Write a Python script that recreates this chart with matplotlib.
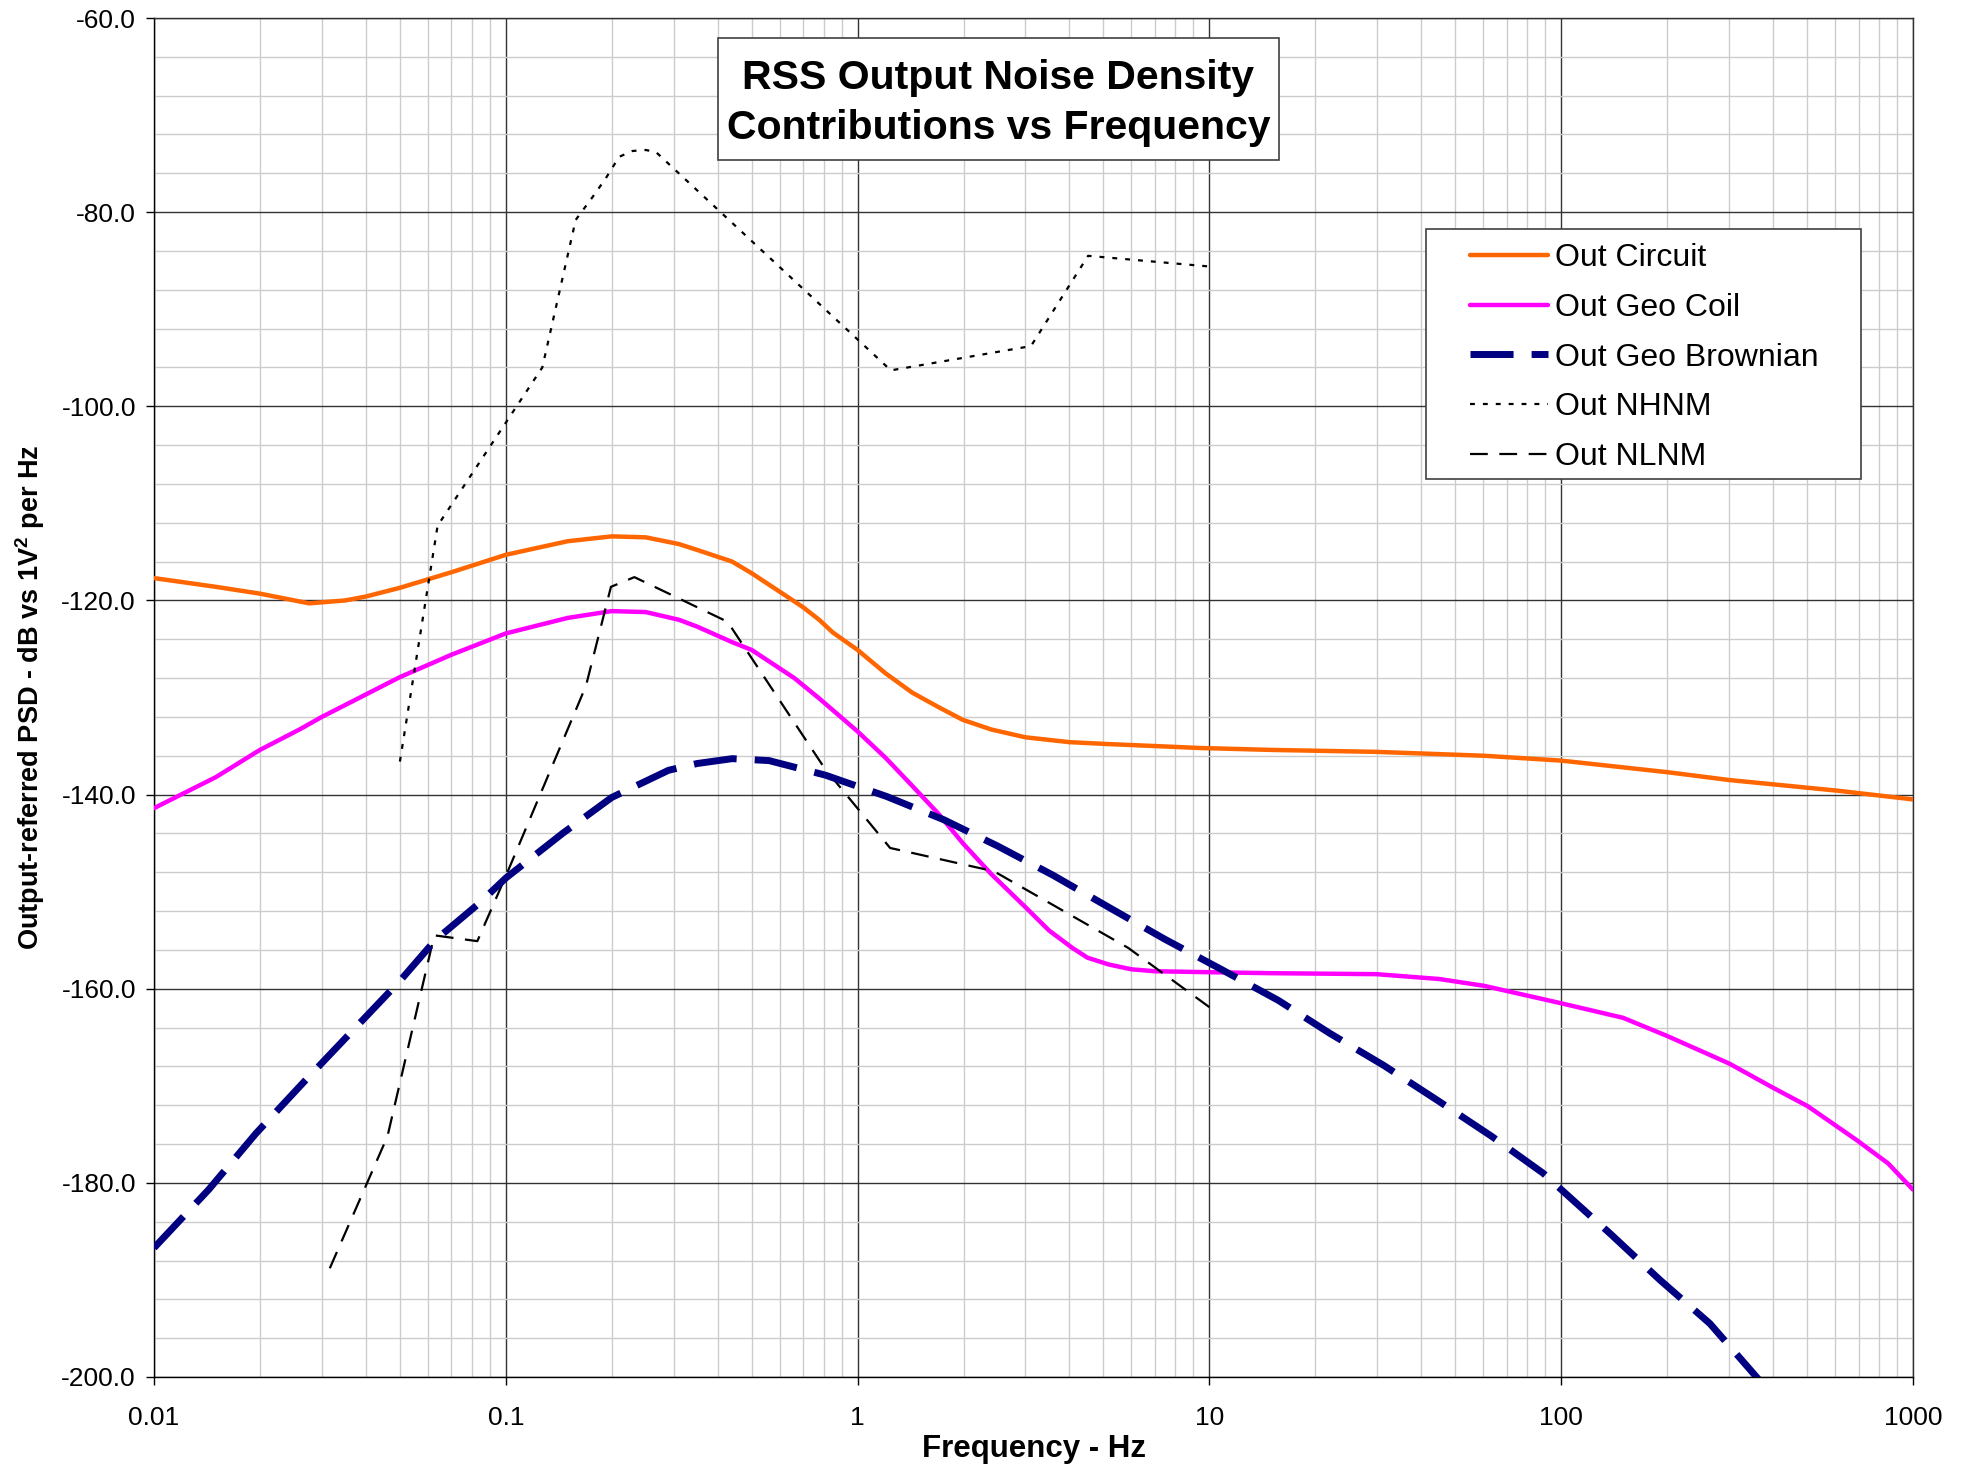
import matplotlib
matplotlib.use("Agg")
import matplotlib.pyplot as plt
from matplotlib.patches import Rectangle
from matplotlib.ticker import FixedLocator, NullFormatter, LogLocator

plt.rcParams['font.family'] = ['Liberation Sans', 'DejaVu Sans']
plt.rcParams['mathtext.fontset'] = 'custom'
plt.rcParams['mathtext.rm'] = 'Liberation Sans'
plt.rcParams['mathtext.bf'] = 'Liberation Sans:bold'

# ---------------- data ----------------
circuit_f = [0.01, 0.015, 0.02, 0.0276, 0.035, 0.04, 0.05, 0.07, 0.1, 0.15, 0.2, 0.25,
             0.311, 0.35, 0.44, 0.5, 0.661, 0.7, 0.778, 0.85, 1.0, 1.2, 1.43, 1.7,
             1.99, 2.4, 3.0, 4.0, 5.17, 7.0, 9.37, 15, 29.8, 60.3, 100, 201, 300,
             610, 1000]
circuit_db = [-117.7, -118.6, -119.3, -120.3, -120.0, -119.6, -118.7, -117.1, -115.3,
              -113.9, -113.4, -113.5, -114.2, -114.8, -116.0, -117.2, -120.1, -120.7,
              -122.0, -123.3, -125.1, -127.5, -129.5, -131.0, -132.3, -133.3, -134.1,
              -134.6, -134.8, -135.0, -135.2, -135.4, -135.6, -136.0, -136.5, -137.7,
              -138.5, -139.6, -140.5]

coil_f = [0.01, 0.015, 0.02, 0.0259, 0.03, 0.05, 0.07, 0.1, 0.15, 0.2, 0.25, 0.311,
          0.35, 0.44, 0.5, 0.661, 0.778, 1.0, 1.2, 1.43, 1.7, 1.99, 2.4, 3.0, 3.5,
          4.08, 4.5, 5.17, 6.0, 7.0, 10, 15, 29.8, 45, 60.3, 100, 150, 201, 300,
          400, 502, 692, 850, 1000]
coil_db = [-141.4, -138.2, -135.4, -133.3, -132.0, -127.9, -125.6, -123.4, -121.8,
           -121.1, -121.2, -122.0, -122.7, -124.3, -125.1, -128.0, -130.1, -133.5,
           -136.2, -139.1, -142.0, -145.0, -148.2, -151.6, -154.0, -155.8, -156.8,
           -157.5, -158.0, -158.2, -158.3, -158.4, -158.5, -159.0, -159.7, -161.5,
           -163.0, -164.9, -167.7, -170.2, -172.1, -175.6, -178.0, -180.7]

brown_f = [0.01, 0.0143, 0.0195, 0.027, 0.05, 0.063, 0.084, 0.1, 0.145, 0.2, 0.29,
           0.35, 0.44, 0.56, 0.81, 1.21, 1.76, 2.5, 3.59, 5.17, 7.47, 10.8, 15.7, 22,
           31.3, 44.5, 63.4, 88.8, 118.5, 137.5, 190.8, 264.7, 359, 400]
brown_db = [-186.7, -180.7, -174.9, -169.4, -159.2, -155.0, -151.2, -148.6, -144.0,
            -140.3, -137.5, -136.8, -136.3, -136.5, -138.0, -140.2, -142.6, -145.3,
            -148.3, -151.6, -154.9, -158.0, -161.2, -164.6, -167.9, -171.5, -175.2,
            -179.0, -183.1, -185.2, -190.0, -194.5, -200.0, -202.0]

nhnm_f = [0.05, 0.064, 0.127, 0.158, 0.176, 0.1925, 0.21, 0.229, 0.25, 0.267, 1.243,
          3.11, 4.52, 10]
nhnm_db = [-136.6, -112.3, -96.0, -80.8, -78.5, -76.5, -74.3, -73.7, -73.6, -73.8,
           -96.3, -93.8, -84.5, -85.6]

nlnm_f = [0.0316, 0.0461, 0.0626, 0.083, 0.1, 0.169, 0.199, 0.232, 0.427, 0.806,
          1.237, 2.44, 5.88, 10]
nlnm_db = [-188.8, -175.2, -154.5, -155.1, -148.4, -128.8, -118.6, -117.6, -122.2,
           -137.3, -145.5, -147.9, -155.8, -161.9]

x_ticks = [0.01, 0.1, 1, 10, 100, 1000]
x_ticklabels = ['0.01', '0.1', '1', '10', '100', '1000']
y_ticks = [-200, -180, -160, -140, -120, -100, -80, -60]
y_ticklabels = ['%.1f' % v for v in y_ticks]
series_labels = ['Out Circuit', 'Out Geo Coil', 'Out Geo Brownian', 'Out NHNM', 'Out NLNM']
title_text = 'RSS Output Noise Density\nContributions vs Frequency'
x_label = 'Frequency - Hz'
y_label = r'Output-referred PSD - dB vs 1V$^{\mathbf{2}}$ per Hz'

# ---------------- figure ----------------
W, H = 1965, 1477
fig = plt.figure(figsize=(W / 100, H / 100), dpi=100)
fig.patch.set_facecolor('white')
ax = fig.add_axes([154 / W, 1 - 1377 / H, (1913 - 154) / W, (1377 - 18) / H])

ax.set_xscale('log')
ax.set_xlim(0.01, 1000)
ax.set_ylim(-200, -60)

ax.xaxis.set_major_locator(FixedLocator(x_ticks))
ax.xaxis.set_minor_locator(LogLocator(base=10, subs=range(2, 10), numticks=20))
ax.xaxis.set_minor_formatter(NullFormatter())
ax.set_xticklabels(x_ticklabels)
ax.yaxis.set_major_locator(FixedLocator(y_ticks))
ax.yaxis.set_minor_locator(FixedLocator(list(range(-200, -59, 4))))
ax.set_yticklabels(y_ticklabels)

ax.grid(True, which='minor', color='#cccccc', linewidth=1.0)
ax.grid(True, which='major', color='#333333', linewidth=1.0)
ax.set_axisbelow(True)
ax.tick_params(which='minor', length=0)
ax.tick_params(which='major', direction='out', length=6, width=1.0, color='black',
               labelsize=19)
ax.tick_params(axis='x', pad=15)
ax.tick_params(axis='y', pad=7)
for s in ax.spines.values():
    s.set_color('#303030')
    s.set_linewidth(1.0)
ax.spines['left'].set_color('black')
ax.spines['bottom'].set_color('black')

# series
ax.plot(circuit_f, circuit_db, color='#FF6600', lw=3.2, label=series_labels[0],
        solid_capstyle='round', solid_joinstyle='round', zorder=3)
ax.plot(coil_f, coil_db, color='#FF00FF', lw=3.2, label=series_labels[1],
        solid_capstyle='round', solid_joinstyle='round', zorder=3)
ax.plot(brown_f, brown_db, color='#000080', lw=5.0, label=series_labels[2],
        linestyle=(0, (6.2, 2.6)), dash_capstyle='butt', zorder=4)
ax.plot(nhnm_f, nhnm_db, color='black', lw=1.6, label=series_labels[3],
        linestyle=(0, (2.2, 3.6)), zorder=3)
ax.plot(nlnm_f, nlnm_db, color='black', lw=1.6, label=series_labels[4],
        linestyle=(0, (8.0, 5.2)), zorder=3)

ax.set_xlabel(x_label, fontsize=22.5, fontweight='bold', labelpad=3)
ax.set_ylabel(y_label, fontsize=19.5, fontweight='bold', labelpad=10)

# title box
fig.patches.append(Rectangle((718 / W, 1 - 160 / H), (1279 - 718) / W, (160 - 38) / H,
                             transform=fig.transFigure, facecolor='white',
                             edgecolor='#404040', linewidth=1.2, zorder=5))
fig.text(998.5 / W, 1 - 103 / H, title_text, ha='center', va='center',
         fontsize=29.5, fontweight='bold', linespacing=1.38, zorder=6)

# legend box + entries
fig.patches.append(Rectangle((1426 / W, 1 - 479 / H), (1861 - 1426) / W, (479 - 229) / H,
                             transform=fig.transFigure, facecolor='white',
                             edgecolor='#404040', linewidth=1.2, zorder=5))
handles, labels = ax.get_legend_handles_labels()
leg = fig.legend(handles, labels, loc='upper left',
                 bbox_to_anchor=(1470 / W, 1 - 243 / H), frameon=False,
                 fontsize=23, handlelength=2.45, handletextpad=0.22,
                 borderpad=0, borderaxespad=0, labelspacing=0.62)
leg.set_zorder(7)

fig.savefig('out.png', dpi=100, facecolor='white')
